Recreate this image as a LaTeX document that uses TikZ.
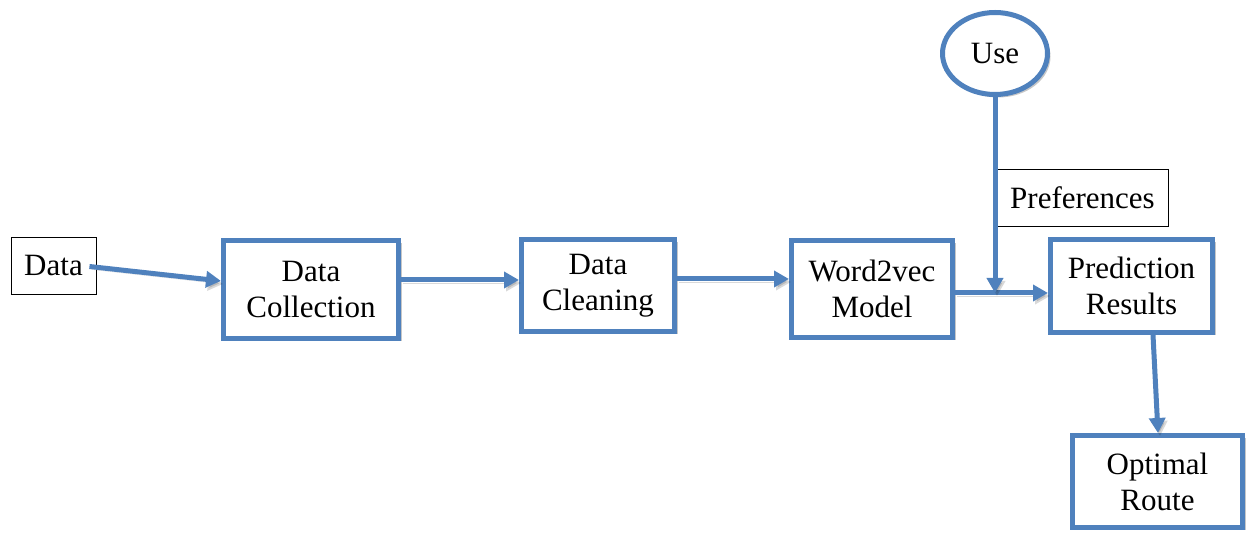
\documentclass[tikz,border=0pt]{standalone}
\usepackage{fontspec}
\setmainfont{Liberation Serif}
\usetikzlibrary{arrows.meta,shapes.geometric,shadows}
\definecolor{flowblue}{HTML}{4F81BD}
\begin{document}
\begin{tikzpicture}[x=1pt,y=1pt,
  every node/.style={font=\fontsize{31}{36}\selectfont, align=center, inner sep=0pt},
  bluebox/.style={draw=flowblue, line width=5pt, fill=white, rectangle,
    drop shadow={shadow xshift=3pt, shadow yshift=-3pt, opacity=0.22, fill=black}},
  plainbox/.style={draw=black, line width=0.9pt, rectangle, fill=white},
  arr/.style={draw=flowblue, line width=5pt, -{Triangle[length=15pt,width=16pt]},
    preaction={draw=black, opacity=0.15, transform canvas={shift={(2pt,-3pt)}}}},
  link/.style={draw=flowblue, line width=5pt,
    preaction={draw=black, opacity=0.15, transform canvas={shift={(2pt,-3pt)}}}}
]
\useasboundingbox (0,0) rectangle (1248,535);

% input and processing stages
\node[plainbox, minimum width=85, minimum height=57] (data) at (53.5,269.5) {Data};
\node[bluebox, minimum width=175, minimum height=98] (collect) at (311,245.5) {Data\\Collection};
\node[bluebox, minimum width=153, minimum height=92] (clean) at (598,249.5) {Data\\Cleaning};
\node[bluebox, minimum width=161, minimum height=97] (w2v) at (872,246) {Word2vec\\Model};
\node[bluebox, minimum width=162, minimum height=93] (pred) at (1131.5,249) {Prediction\\Results};
\node[bluebox, minimum width=170, minimum height=92] (route) at (1157.5,53.5) {Optimal\\Route};

% user preferences feeding the prediction
\node[bluebox, ellipse, minimum width=105, minimum height=82] (use) at (995,481.5) {Use};
\node[plainbox, minimum width=171, minimum height=57] (pref) at (1082.5,337.5) {Preferences};

% junction where the preferences join the model output
\coordinate (join) at (995,242);

% connectors
\draw[arr] ([xshift=-7pt,yshift=-1pt]data.east) -- ([yshift=8.5pt]collect.west);
\draw[arr] ([yshift=9.5pt]collect.east) -- ([yshift=5.5pt]clean.west);
\draw[arr] ([yshift=6.5pt]clean.east) -- ([yshift=10pt]w2v.west);
\draw[arr] ([yshift=-4pt]w2v.east) -- ([yshift=-7pt]pred.west);
\draw[arr] (use.south) -- (join);
\draw[arr] ([xshift=21.5pt]pred.south) -- ([xshift=0.5pt]route.north);
\end{tikzpicture}
\end{document}
